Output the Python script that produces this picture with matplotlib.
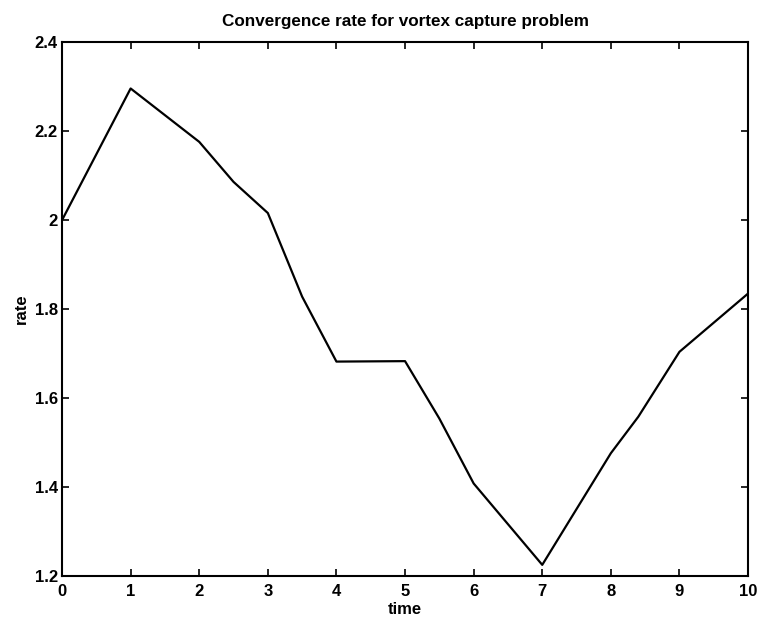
import matplotlib
matplotlib.use("Agg")
import matplotlib.pyplot as plt

# values
time = [0, 1, 2, 2.5, 3, 3.5, 4, 5, 5.5, 6, 7, 8, 8.4, 9, 10]
rate = [2.0, 2.296, 2.176, 2.086, 2.016, 1.828, 1.682, 1.683, 1.554, 1.408,
        1.225, 1.476, 1.558, 1.704, 1.835]

xticks = list(range(0, 11))
yticks = [1.2, 1.4, 1.6, 1.8, 2.0, 2.2, 2.4]
ytick_labels = ["1.2", "1.4", "1.6", "1.8", "2", "2.2", "2.4"]

plt.rcParams["font.family"] = ["Liberation Sans", "DejaVu Sans"]

fig = plt.figure(figsize=(7.61, 6.21), dpi=100)
ax = fig.add_axes([0.0815, 0.0725, 0.9015, 0.8595])
ax.plot(time, rate, color="black", linewidth=1.6)

ax.set_xlim(0, 10)
ax.set_ylim(1.2, 2.4)
ax.set_xticks(xticks)
ax.set_yticks(yticks)
ax.set_yticklabels(ytick_labels)
ax.tick_params(direction="in", top=True, right=True, length=5, width=1.2,
               labelsize=12)
ax.tick_params(axis="x", pad=6)
ax.tick_params(axis="y", pad=3)
for lab in ax.get_xticklabels() + ax.get_yticklabels():
    lab.set_fontweight("bold")
for s in ax.spines.values():
    s.set_linewidth(1.5)

ax.set_title("Convergence rate for vortex capture problem", fontsize=12.3,
             fontweight="bold", pad=12)
ax.set_xlabel("time", fontsize=12, fontweight="bold", labelpad=2)
ax.set_ylabel("rate", fontsize=12, fontweight="bold", labelpad=4)

fig.savefig("out.png", dpi=100)
